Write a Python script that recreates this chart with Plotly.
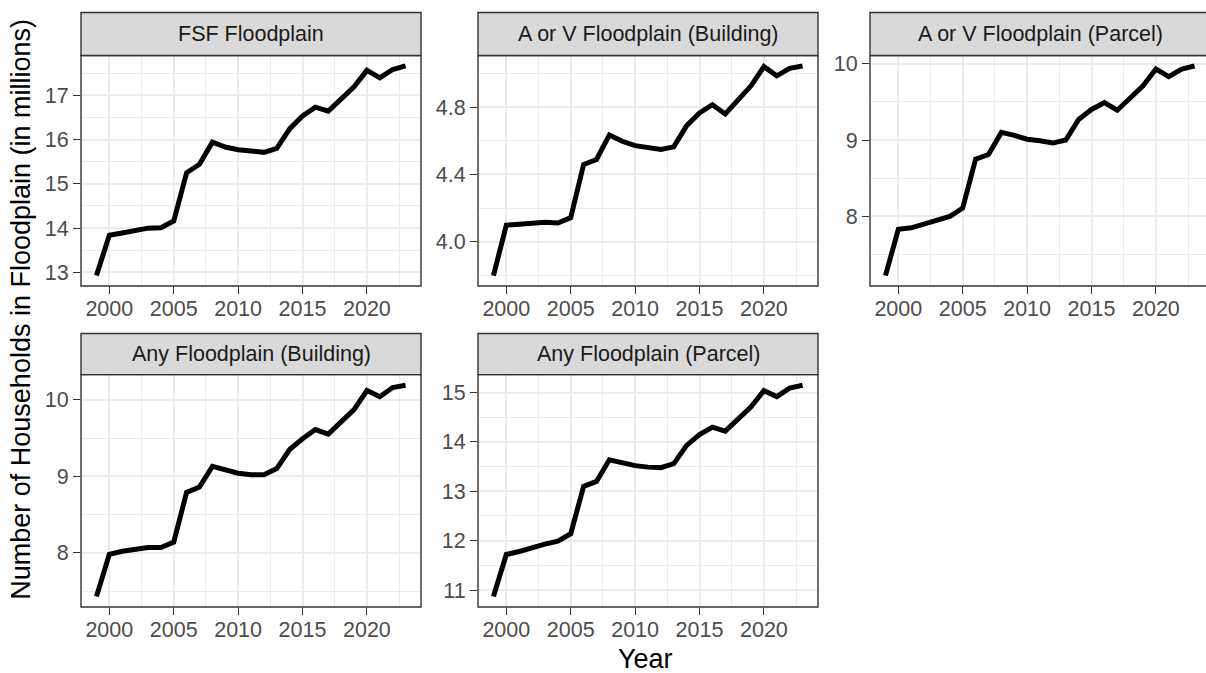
import plotly.graph_objects as go

# Households located in floodplains, 1999-2023 (millions)
years = list(range(1999, 2024))

fsf_floodplain = [12.93, 13.84, 13.89, 13.95, 14.00, 14.01, 14.16, 15.25, 15.44, 15.94,
                  15.83, 15.77, 15.74, 15.71, 15.80, 16.24, 16.53, 16.73, 16.64, 16.90,
                  17.19, 17.56, 17.39, 17.58, 17.66]
av_building = [3.80, 4.099, 4.104, 4.110, 4.116, 4.112, 4.144, 4.459, 4.489, 4.634,
               4.597, 4.571, 4.562, 4.548, 4.564, 4.690, 4.765, 4.814, 4.759, 4.843,
               4.926, 5.040, 4.985, 5.030, 5.044]
av_parcel = [7.225, 7.83, 7.85, 7.90, 7.96, 8.00, 8.11, 8.75, 8.81, 9.10,
             9.06, 9.01, 8.99, 8.96, 9.00, 9.27, 9.40, 9.49, 9.39, 9.55,
             9.71, 9.93, 9.83, 9.93, 9.97]
any_building = [7.43, 7.98, 8.02, 8.04, 8.07, 8.07, 8.14, 8.79, 8.86, 9.13,
                9.08, 9.04, 9.02, 9.02, 9.10, 9.35, 9.49, 9.61, 9.55, 9.71,
                9.87, 10.12, 10.04, 10.16, 10.19]
any_parcel = [10.87, 11.72, 11.78, 11.86, 11.93, 11.99, 12.14, 13.10, 13.20, 13.64,
              13.58, 13.52, 13.49, 13.48, 13.56, 13.93, 14.15, 14.30, 14.22, 14.48,
              14.71, 15.04, 14.92, 15.09, 15.15]

panel_titles = ["FSF Floodplain", "A or V Floodplain (Building)", "A or V Floodplain (Parcel)",
                "Any Floodplain (Building)", "Any Floodplain (Parcel)"]
panel_values = [fsf_floodplain, av_building, av_parcel, any_building, any_parcel]

x_ticks = [2000, 2005, 2010, 2015, 2020]
x_minor = [2002.5, 2007.5, 2012.5, 2017.5, 2022.5]
y_ticks = [[13, 14, 15, 16, 17], [4.0, 4.4, 4.8], [8, 9, 10], [8, 9, 10], [11, 12, 13, 14, 15]]
y_tick_text = [["13", "14", "15", "16", "17"], ["4.0", "4.4", "4.8"], ["8", "9", "10"],
               ["8", "9", "10"], ["11", "12", "13", "14", "15"]]

x_title = "Year"
y_title = "Number of Households in Floodplain (in millions)"

# ---- page geometry (pixels) ----
W, H = 1206, 673
col_left = [81, 478, 870]
panel_w = 340
strip_top = [9.5, 332]
strip_bot = [52.7, 373.3]
plot_bot = [284.3, 606.7]
positions = [(0, 0), (0, 1), (0, 2), (1, 0), (1, 1)]

FONT = "Liberation Sans, Arial, sans-serif"
BORDER = "#333333"
GRID = "#EBEBEB"
TICK_SIZE = 21.5
TITLE_SIZE = 27

fig = go.Figure()
layout = dict(
    width=W, height=H,
    margin=dict(l=0, r=0, t=0, b=0),
    paper_bgcolor="white", plot_bgcolor="white",
    showlegend=False,
    font=dict(family=FONT),
)
shapes, annotations = [], []


def expand(lo, hi, frac=0.05):
    span = hi - lo
    return lo - frac * span, hi + frac * span


for i, (vals, title) in enumerate(zip(panel_values, panel_titles)):
    r, c = positions[i]
    n = i + 1
    xa = "xaxis" if n == 1 else f"xaxis{n}"
    ya = "yaxis" if n == 1 else f"yaxis{n}"
    xr = "x" if n == 1 else f"x{n}"
    yr = "y" if n == 1 else f"y{n}"

    left = col_left[c]
    right = left + panel_w
    x_lo, x_hi = expand(min(years), max(years))
    vis_right = min(right, W)
    x_hi_vis = x_lo + (x_hi - x_lo) * (vis_right - left) / panel_w
    y_lo, y_hi = expand(min(vals), max(vals))

    fig.add_trace(go.Scatter(x=years, y=vals, mode="lines",
                             line=dict(color="black", width=5),
                             xaxis=xr, yaxis=yr, hoverinfo="skip"))

    step = y_ticks[i][1] - y_ticks[i][0]
    y_minor = [y_ticks[i][0] - step / 2] + [t + step / 2 for t in y_ticks[i]]
    y_minor = [v for v in y_minor if y_lo <= v <= y_hi]

    layout[xa] = dict(
        domain=[left / W, vis_right / W], range=[x_lo, x_hi_vis], anchor=yr,
        tickmode="array", tickvals=x_ticks, ticktext=[str(t) for t in x_ticks],
        ticks="outside", ticklen=7, tickwidth=1.3, tickcolor=BORDER,
        ticklabelstandoff=-4,
        tickfont=dict(size=TICK_SIZE, color="#4D4D4D", family=FONT),
        showgrid=True, gridcolor=GRID, gridwidth=2.4, zeroline=False, showline=False,
        minor=dict(tickmode="array", tickvals=x_minor, showgrid=True,
                   gridcolor=GRID, gridwidth=1.2, ticks=""),
    )
    layout[ya] = dict(
        domain=[1 - plot_bot[r] / H, 1 - strip_bot[r] / H], range=[y_lo, y_hi], anchor=xr,
        tickmode="array", tickvals=y_ticks[i], ticktext=y_tick_text[i],
        ticks="outside", ticklen=7, tickwidth=1.3, tickcolor=BORDER,
        tickfont=dict(size=TICK_SIZE, color="#4D4D4D", family=FONT),
        showgrid=True, gridcolor=GRID, gridwidth=2.4, zeroline=False, showline=False,
        minor=dict(tickmode="array", tickvals=y_minor, showgrid=True,
                   gridcolor=GRID, gridwidth=1.2, ticks=""),
    )

    # panel border
    shapes.append(dict(type="rect", xref="paper", yref="paper", layer="above",
                       x0=left / W, x1=right / W,
                       y0=1 - plot_bot[r] / H, y1=1 - strip_bot[r] / H,
                       line=dict(color=BORDER, width=1.4), fillcolor="rgba(0,0,0,0)"))
    # facet strip
    shapes.append(dict(type="rect", xref="paper", yref="paper", layer="above",
                       x0=left / W, x1=right / W,
                       y0=1 - strip_bot[r] / H, y1=1 - strip_top[r] / H,
                       line=dict(color=BORDER, width=1.4), fillcolor="#D9D9D9"))
    annotations.append(dict(text=title, xref="paper", yref="paper",
                            x=(left + right) / 2 / W,
                            y=1 - (strip_top[r] + strip_bot[r]) / 2 / H,
                            xanchor="center", yanchor="middle", showarrow=False,
                            font=dict(size=TICK_SIZE, color="#1A1A1A", family=FONT)))

annotations.append(dict(text=x_title, xref="paper", yref="paper",
                        x=(col_left[0] + col_left[2] + panel_w) / 2 / W, y=1 - 659 / H,
                        xanchor="center", yanchor="middle", showarrow=False,
                        font=dict(size=TITLE_SIZE, color="black", family=FONT)))
annotations.append(dict(text=y_title, xref="paper", yref="paper",
                        x=21 / W, y=1 - (strip_top[0] + plot_bot[1]) / 2 / H,
                        xanchor="center", yanchor="middle", showarrow=False, textangle=-90,
                        font=dict(size=TITLE_SIZE, color="black", family=FONT)))

layout["shapes"] = shapes
layout["annotations"] = annotations
fig.update_layout(**layout)
fig.write_html("out.html")
